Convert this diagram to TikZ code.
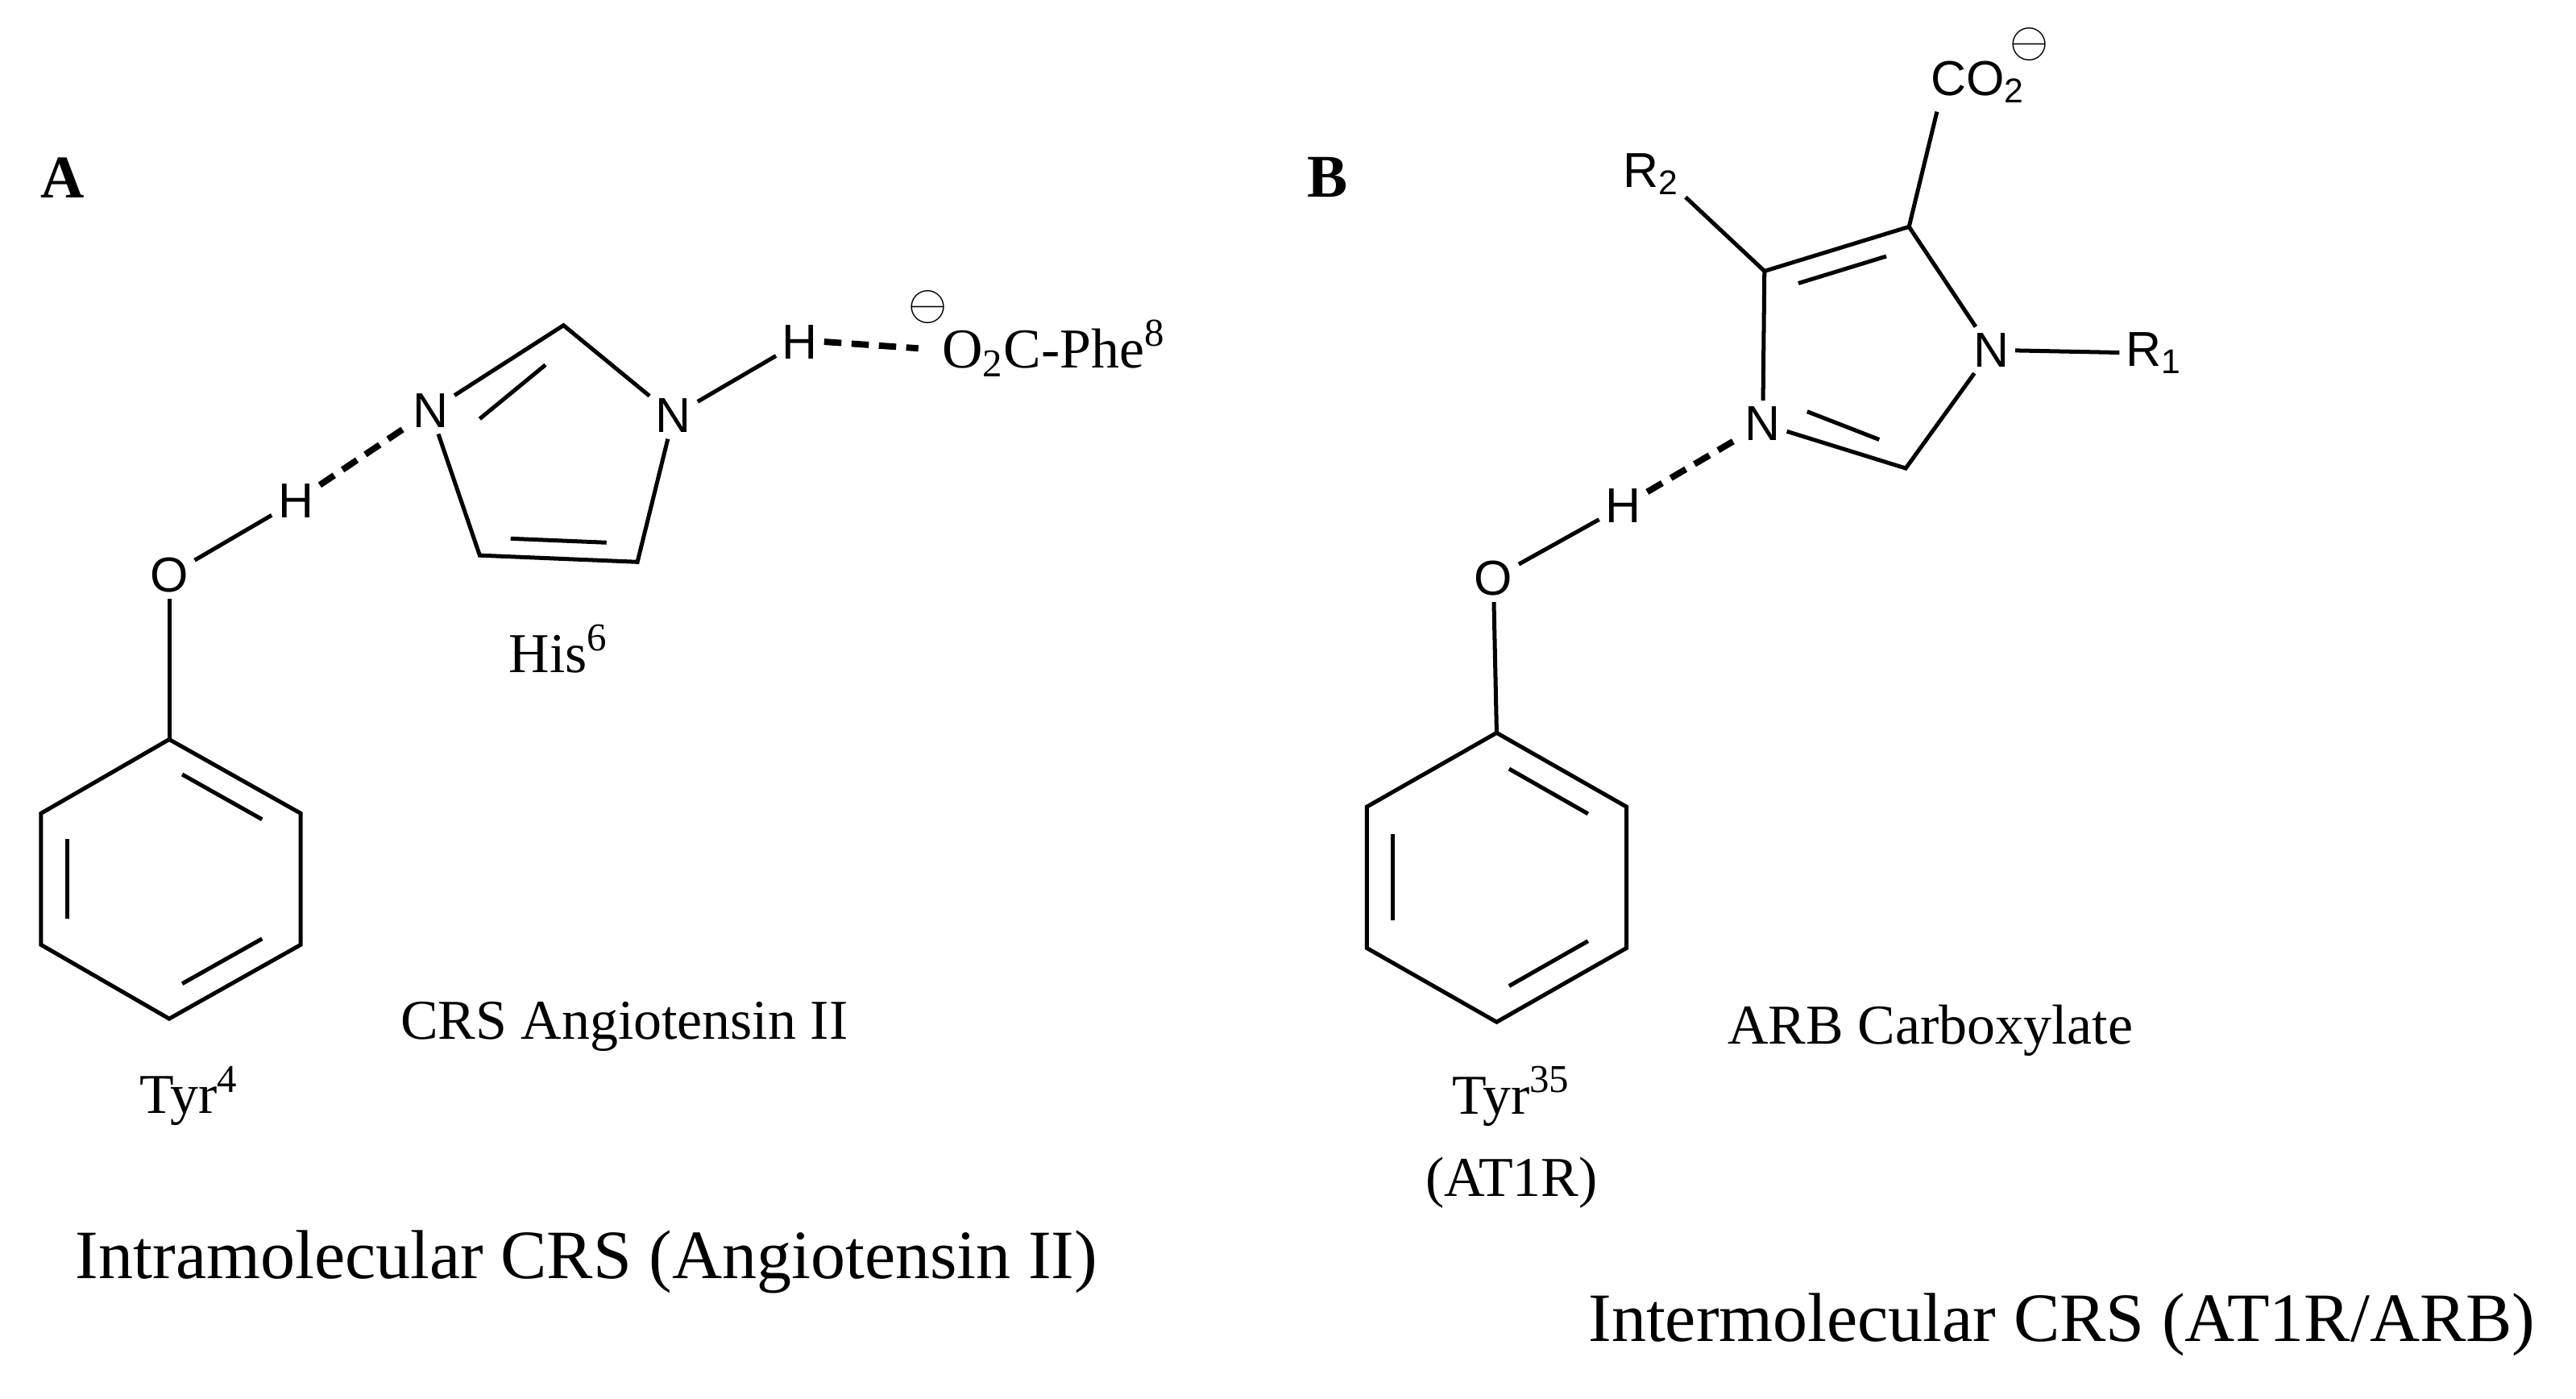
\documentclass[tikz,border=0pt]{standalone}
\usepackage{fontspec}
\setmainfont{Liberation Serif}
\newfontfamily\arial{Liberation Sans}
\usetikzlibrary{calc}
\tikzset{
 atom/.style={font=\arial\fontsize{17}{17}\selectfont, inner sep=2pt},
 chg/.style={font=\fontsize{17}{17}\selectfont, inner sep=0pt},
 lbl/.style={font=\fontsize{19.5}{19.5}\selectfont, inner sep=0pt},
 big/.style={font=\fontsize{24}{24}\selectfont, inner sep=0pt},
 bond/.style={line width=1.4pt},
 hb/.style={line width=2.2pt, dash pattern=on 6pt off 3.5pt},
}
\newcommand{\dbl}[3]{\draw[bond] ($($(#1)!.12!(#2)$)!.2!(#3)$) -- ($($(#2)!.12!(#1)$)!.2!(#3)$);}
\begin{document}
\begin{tikzpicture}[x=0.02cm,y=-0.02cm]
\useasboundingbox (0,0) rectangle (1568,851);
% Panel A
\node[font=\bfseries\fontsize{21}{21}\selectfont] (lA) at (38,108) {A};
\coordinate (a1) at (103,450); \coordinate (a2) at (183,495); \coordinate (a3) at (183,575);
\coordinate (a4) at (103,620); \coordinate (a5) at (25,575); \coordinate (a6) at (25,495);
\coordinate (ac) at (104,535);
\draw[bond] (a1)--(a2)--(a3)--(a4)--(a5)--(a6)--cycle;
\dbl{a1}{a2}{ac} \dbl{a3}{a4}{ac} \dbl{a5}{a6}{ac}
\node[atom] (aO) at (103,350) {O};
\draw[bond] (aO) -- (a1);
\node[atom] (aH) at (180,305) {H};
\draw[bond] (aO) -- (aH);
\node[atom] (aN3) at (262,250) {N};
\coordinate (aC2) at (343,198); \node[atom] (aN1) at (410,253) {N};
\coordinate (aC4) at (388,342); \coordinate (aC5) at (292,338);
\coordinate (aic) at (340,285);
\draw[bond] (aN3) -- (aC2) -- (aN1) -- (aC4) -- (aC5) -- (aN3);
\draw[bond] ($($(aN3.east)!.05!(aC2)$)!.2!(aic)$) -- ($($(aC2)!.16!(aN3)$)!.2!(aic)$);
\dbl{aC4}{aC5}{aic}
\draw[hb] (aH) -- (aN3);
\node[atom] (aH2) at (487,208) {H};
\draw[bond] (aN1) -- (aH2);
\node[lbl, anchor=west] (phe) at (573,212) {O\textsubscript{2}C-Phe\textsuperscript{8}};
\node[chg] (am) at (565,187) {$\ominus$};
\draw[hb] (aH2.east) -- ($(phe.west)+(-14,0)$);
\node[lbl] (his) at (340,395) {His\textsuperscript{6}};
\node[lbl] (crsA) at (380,625) {CRS Angiotensin II};
\node[lbl] (tyr4) at (115,667) {Tyr\textsuperscript{4}};
\node[big] (capA) at (357,768) {Intramolecular CRS (Angiotensin II)};
% Panel B
\node[font=\bfseries\fontsize{21}{21}\selectfont] (lB) at (808,108) {B};
\coordinate (b1) at (911,446); \coordinate (b2) at (990,491); \coordinate (b3) at (990,577);
\coordinate (b4) at (911,622); \coordinate (b5) at (832,577); \coordinate (b6) at (832,491);
\coordinate (bc) at (911,534);
\draw[bond] (b1)--(b2)--(b3)--(b4)--(b5)--(b6)--cycle;
\dbl{b1}{b2}{bc} \dbl{b3}{b4}{bc} \dbl{b5}{b6}{bc}
\node[atom] (bO) at (909,352) {O};
\draw[bond] (bO) -- (b1);
\node[atom] (bH) at (988,308) {H};
\draw[bond] (bO) -- (bH);
\coordinate (bC4) at (1074,165); \coordinate (bC5) at (1162,138);
\node[atom] (bN1) at (1212,213) {N}; \coordinate (bC2) at (1160,285);
\node[atom] (bN3) at (1073,258) {N};
\coordinate (bic) at (1135,215);
\draw[bond] (bC4) -- (bC5) -- (bN1) -- (bC2) -- (bN3) -- (bC4);
\dbl{bC4}{bC5}{bic}
\draw[bond] ($($(bN3.east)!.05!(bC2)$)!.2!(bic)$) -- ($($(bC2)!.16!(bN3)$)!.2!(bic)$);
\draw[hb] (bH) -- (bN3);
\node[atom] (bR2) at (1005,106) {R\textsubscript{2}};
\coordinate (r2e) at (1026,120);
\draw[bond] (r2e) -- (bC4);
\node[atom] (bCO2) at (1204,50) {CO\textsubscript{2}};
\coordinate (co2e) at (1179,68);
\draw[bond] (bC5) -- (co2e);
\node[chg] (bm) at (1235,27) {$\ominus$};
\node[atom] (bR1) at (1311,215) {R\textsubscript{1}};
\draw[bond] (bN1) -- (bR1);
\node[lbl] (arb) at (1175,627) {ARB Carboxylate};
\node[lbl] (tyr35) at (920,667) {Tyr\textsuperscript{35}};
\node[lbl] (at1r) at (920,720) {(AT1R)};
\node[big] (capB) at (1255,806) {Intermolecular CRS (AT1R/ARB)};
\end{tikzpicture}
\end{document}
